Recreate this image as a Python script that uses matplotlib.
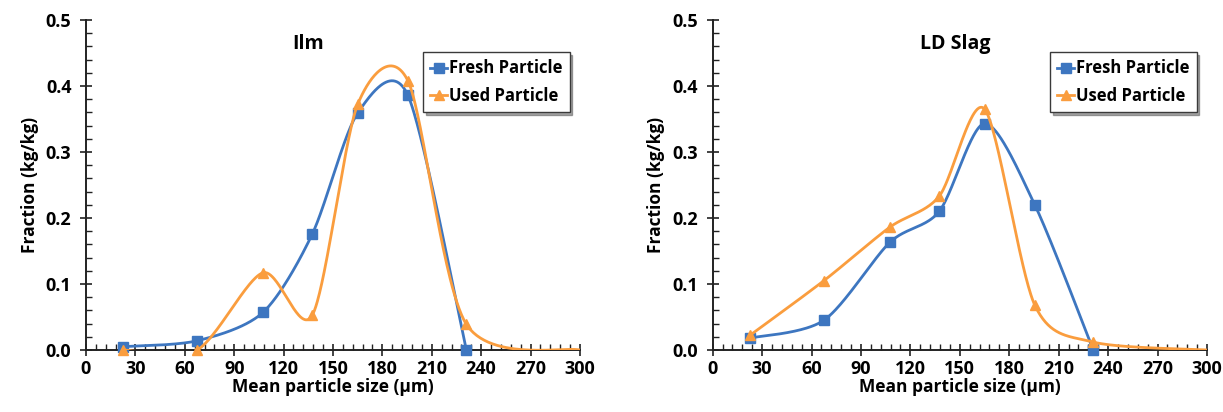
import numpy as np
import matplotlib
matplotlib.use("Agg")
import matplotlib.pyplot as plt
from matplotlib.ticker import MultipleLocator

plt.rcParams['font.family'] = ['Open Sans', 'DejaVu Sans']
plt.rcParams['font.weight'] = 'bold'

# ---- data ----
titles = ["Ilm", "LD Slag"]
size_fresh = [22.5, 67.5, 107.5, 137.5, 165, 195.5, 231]
size_used = [22.5, 67.5, 107.5, 137.5, 165, 195.5, 231, 300]
ilm_fresh = [0.005, 0.014, 0.057, 0.176, 0.359, 0.386, 0.0]
ilm_used = [0.0, 0.0, 0.117, 0.053, 0.372, 0.408, 0.039, 0.0]
ld_fresh = [0.018, 0.045, 0.163, 0.210, 0.343, 0.220, 0.0]
ld_used = [0.022, 0.105, 0.186, 0.233, 0.365, 0.068, 0.012, 0.0]
n_marked_used = 7  # last used point (300) has no marker

xticks = list(range(0, 301, 30))
yticks = [0.0, 0.1, 0.2, 0.3, 0.4, 0.5]

BLUE = '#3D76C0'
ORANGE = '#FA9D3E'
K = 0.14  # smoothing tension


def excel_smooth(x, y, n=60):
    pts = np.column_stack([x, y]).astype(float)
    out = []
    for i in range(len(pts) - 1):
        p0 = pts[i - 1] if i > 0 else pts[i]
        p1 = pts[i]
        p2 = pts[i + 1]
        p3 = pts[i + 2] if i + 2 < len(pts) else pts[i + 1]
        c1 = p1 + (p2 - p0) * K
        c2 = p2 - (p3 - p1) * K
        t = np.linspace(0, 1, n)[:, None]
        seg = (1 - t) ** 3 * p1 + 3 * (1 - t) ** 2 * t * c1 + 3 * (1 - t) * t ** 2 * c2 + t ** 3 * p2
        out.append(seg if i == 0 else seg[1:])
    s = np.vstack(out)
    return s[:, 0], s[:, 1]


fig = plt.figure(figsize=(12.23, 4.12), dpi=100)
axes = [fig.add_axes([0.0703, 0.1505, 0.4039, 0.801]),
        fig.add_axes([0.5827, 0.1505, 0.4042, 0.801])]

series = [(ilm_fresh, ilm_used), (ld_fresh, ld_used)]
title_x = [0.45, 0.49]

for ax, title, (fr, us), tx in zip(axes, titles, series, title_x):
    xs, ys = excel_smooth(size_fresh, fr)
    ax.plot(xs, ys, color=BLUE, lw=2.0, solid_capstyle='round', zorder=3)
    ax.plot(size_fresh, fr, ls='none', marker='s', ms=6.5, color=BLUE,
            clip_on=False, zorder=4)
    xs, ys = excel_smooth(size_used, us)
    ax.plot(xs, ys, color=ORANGE, lw=2.0, solid_capstyle='round', zorder=5)
    ax.plot(size_used[:n_marked_used], us[:n_marked_used], ls='none', marker='^',
            ms=7.5, color=ORANGE, clip_on=False, zorder=6)

    # legend proxies
    h1, = ax.plot([], [], color=BLUE, lw=2.0, marker='s', ms=6.5)
    h2, = ax.plot([], [], color=ORANGE, lw=2.0, marker='^', ms=7.5)
    leg = ax.legend([h1, h2], ["Fresh Particle", "Used Particle"], loc='upper left',
                    bbox_to_anchor=(0.682, 0.903), borderaxespad=0, frameon=True,
                    fancybox=False, shadow=True, handlelength=1.0, handletextpad=0.1,
                    borderpad=0.45, labelspacing=0.55, prop={'size': 12, 'weight': 'bold'})
    leg.get_frame().set_edgecolor('#3a3a3a')
    leg.get_frame().set_linewidth(1.0)

    ax.set_xlim(0, 300)
    ax.set_ylim(0, 0.5)
    ax.set_xticks(xticks)
    ax.set_yticks(yticks)
    ax.set_yticklabels([f"{v:.1f}" for v in yticks])
    ax.xaxis.set_minor_locator(MultipleLocator(6))
    ax.yaxis.set_minor_locator(MultipleLocator(0.02))
    for s in ['top', 'right']:
        ax.spines[s].set_visible(False)
    for s in ['left', 'bottom']:
        ax.spines[s].set_linewidth(1.4)
        ax.spines[s].set_color('#222222')
    ax.tick_params(axis='both', which='major', direction='inout', length=9, width=1.2,
                   color='#222222', labelsize=13, pad=3)
    ax.tick_params(axis='both', which='minor', direction='in', length=4, width=1.0,
                   color='#222222')
    ax.tick_params(axis='y', which='major', pad=6)
    for lbl in ax.get_xticklabels() + ax.get_yticklabels():
        lbl.set_fontweight('bold')
    ax.set_xlabel("Mean particle size (\u00b5m)", fontsize=12.5, fontweight='bold', labelpad=0)
    ax.set_ylabel("Fraction (kg/kg)", fontsize=12.5, fontweight='bold', labelpad=5)
    ax.text(tx, 0.927, title, transform=ax.transAxes, ha='center', va='center',
            fontsize=14, fontweight='bold')

fig.savefig("out.png", dpi=100)
